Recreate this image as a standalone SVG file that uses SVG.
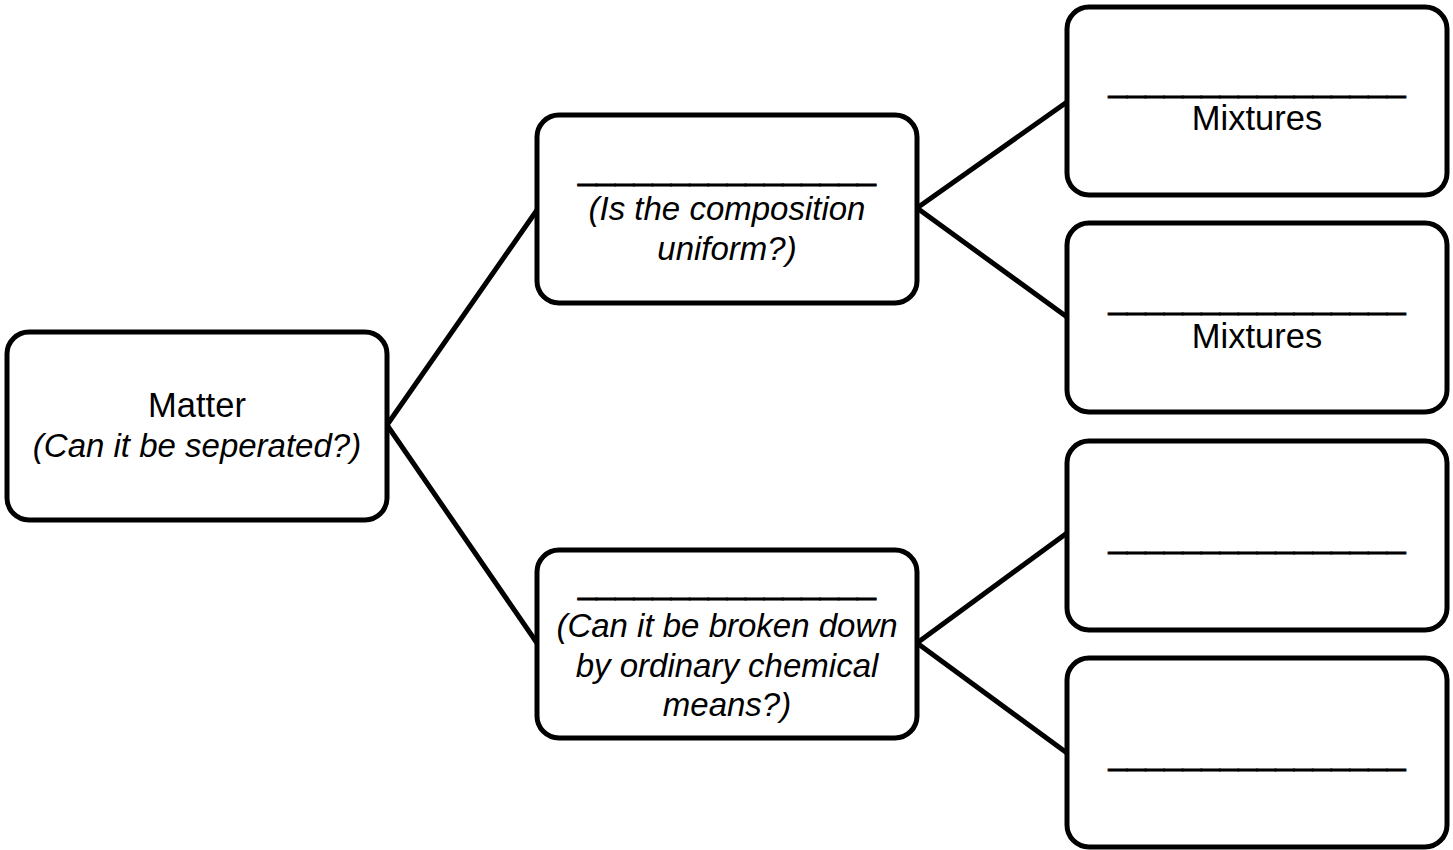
<svg xmlns="http://www.w3.org/2000/svg" width="1453" height="850" viewBox="0 0 1453 850">
<style>
.box{fill:#fff;stroke:#000;stroke-width:5}
.con{fill:none;stroke:#000;stroke-width:5;stroke-linecap:round;stroke-linejoin:round}
text{font-family:"Liberation Sans",Arial,sans-serif;font-size:33px;fill:#000;text-anchor:middle}
.r{font-size:34.5px}
.q{font-style:italic}
.u{stroke:#000;stroke-width:0.8}
</style>
<rect width="1453" height="850" fill="#fff"/>
<g id="connectors">
<line class="con" x1="387" y1="425" x2="537" y2="210"/>
<line class="con" x1="387" y1="425" x2="537" y2="643"/>
<line class="con" x1="917" y1="208" x2="1067" y2="102"/>
<line class="con" x1="917" y1="208" x2="1067" y2="317"/>
<line class="con" x1="917" y1="643" x2="1067" y2="533"/>
<line class="con" x1="917" y1="643" x2="1067" y2="753"/>
</g>
<g id="matter">
<rect class="box" x="7" y="332" width="380" height="188" rx="22"/>
<text class="r" x="197" y="417">Matter</text>
<text class="q" x="197" y="457">(Can it be seperated?)</text>
</g>
<g id="composition">
<rect class="box" x="537" y="115" width="380" height="188" rx="22"/>
<text class="u" x="727" y="179" textLength="298" lengthAdjust="spacingAndGlyphs">________________</text>
<text class="q" x="727" y="220">(Is the composition</text>
<text class="q" x="727" y="260">uniform?)</text>
</g>
<g id="chemical">
<rect class="box" x="537" y="550" width="380" height="188" rx="22"/>
<text class="u" x="727" y="593" textLength="298" lengthAdjust="spacingAndGlyphs">________________</text>
<text class="q" x="727" y="637">(Can it be broken down</text>
<text class="q" x="727" y="677">by ordinary chemical</text>
<text class="q" x="727" y="716">means?)</text>
</g>
<g id="mixtures1">
<rect class="box" x="1067" y="7" width="380" height="188" rx="22"/>
<text class="u" x="1257" y="91" textLength="297" lengthAdjust="spacingAndGlyphs">________________</text>
<text class="r" x="1257" y="130">Mixtures</text>
</g>
<g id="mixtures2">
<rect class="box" x="1067" y="223" width="380" height="189" rx="22"/>
<text class="u" x="1257" y="308" textLength="297" lengthAdjust="spacingAndGlyphs">________________</text>
<text class="r" x="1257" y="348">Mixtures</text>
</g>
<g id="blank1">
<rect class="box" x="1067" y="441" width="380" height="189" rx="22"/>
<text class="u" x="1257" y="547" textLength="297" lengthAdjust="spacingAndGlyphs">________________</text>
</g>
<g id="blank2">
<rect class="box" x="1067" y="658" width="380" height="189" rx="22"/>
<text class="u" x="1257" y="764" textLength="297" lengthAdjust="spacingAndGlyphs">________________</text>
</g>
</svg>
